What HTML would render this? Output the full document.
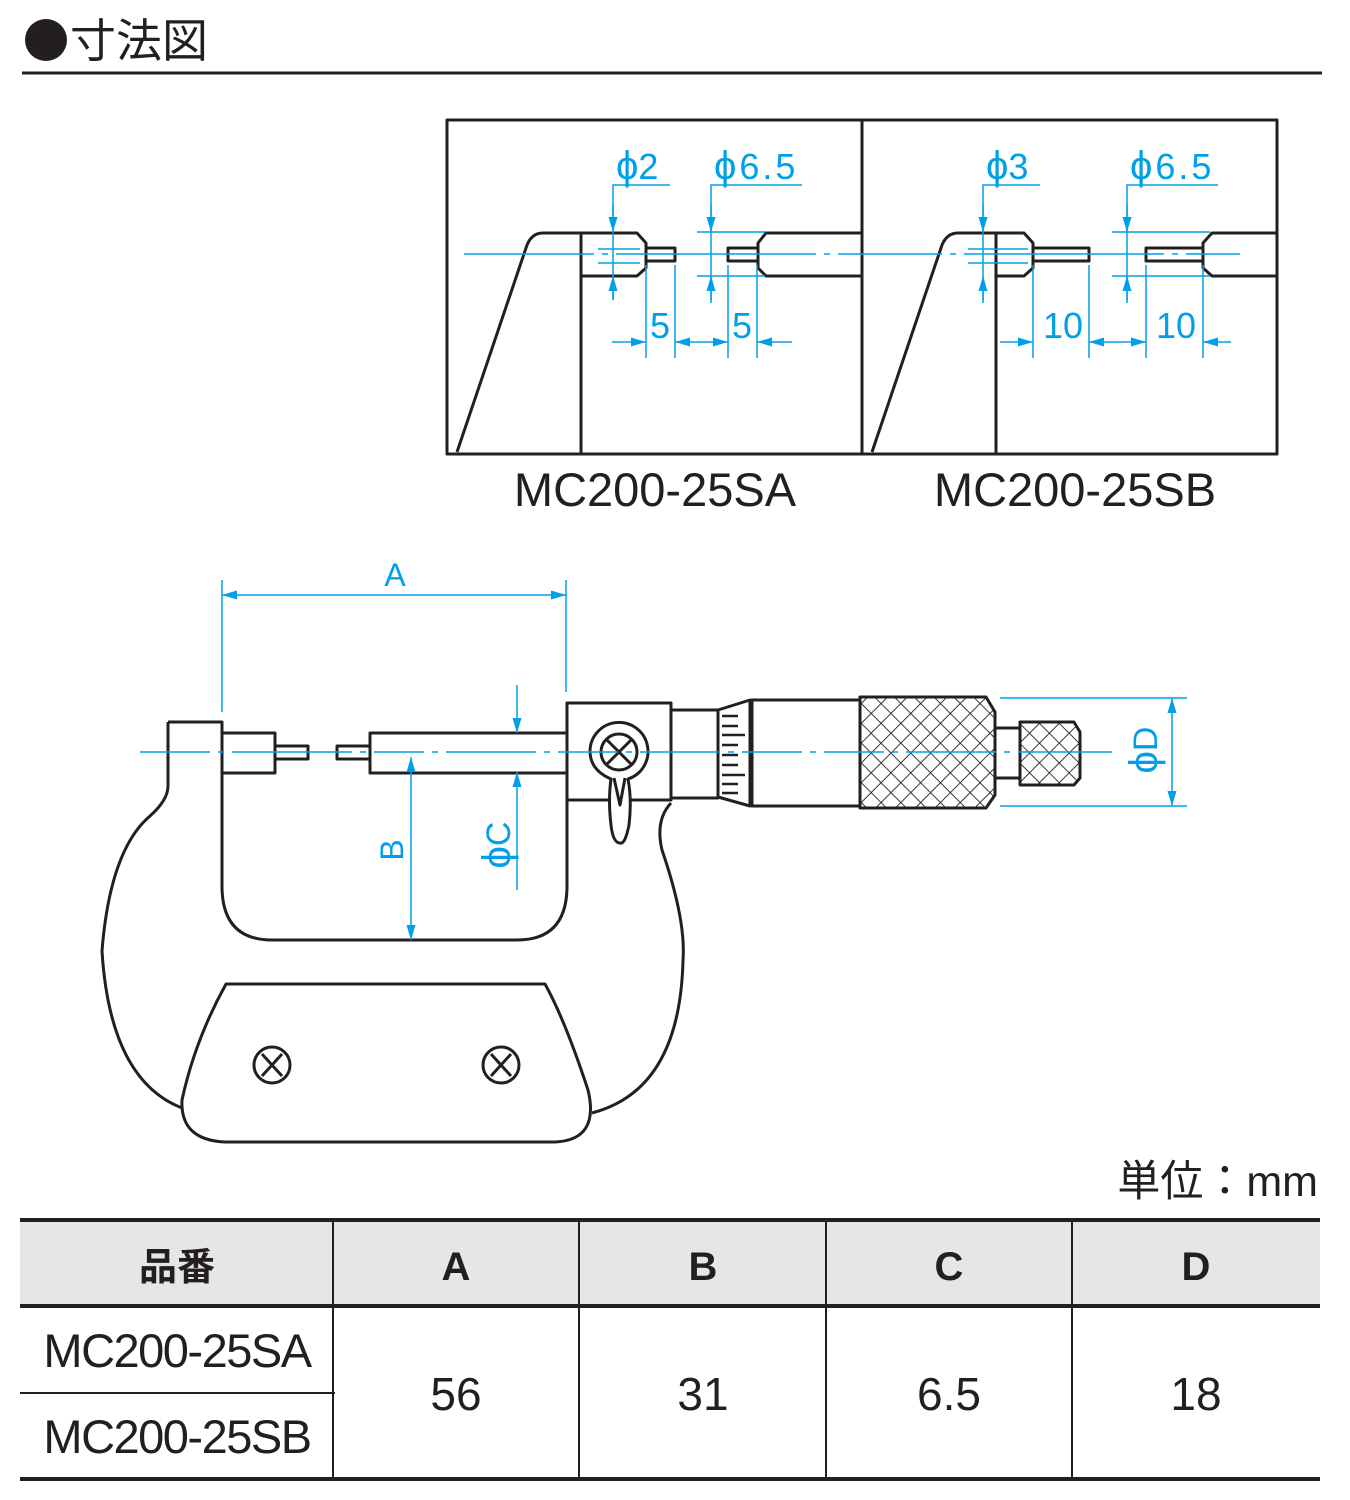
<!DOCTYPE html>
<html><head><meta charset="utf-8"><style>
html,body{margin:0;padding:0;background:#fff;}
svg{display:block;}
.k{fill:none;stroke:#231f20;stroke-width:3;stroke-linejoin:round;}
.b{fill:none;stroke:#00a0e9;stroke-width:1.5;}
.bt{fill:#00a0e9;font-family:"Liberation Sans",sans-serif;}
.t{font-family:"Liberation Sans","Noto Sans CJK JP",sans-serif;fill:#231f20;}
</style></head><body>
<svg width="1350" height="1500" viewBox="0 0 1350 1500" xmlns="http://www.w3.org/2000/svg">
<defs>
<marker id="ar" viewBox="0 0 10 6" refX="10" refY="3" markerWidth="16" markerHeight="9" markerUnits="userSpaceOnUse" orient="auto-start-reverse"><path d="M0,0L10,3L0,6Z" fill="#00a0e9"/></marker>
<pattern id="kn" width="14" height="14" patternUnits="userSpaceOnUse" patternTransform="rotate(45)"><rect width="14" height="14" fill="#fff"/><path d="M0,0H14M0,0V14" stroke="#231f20" stroke-width="1.8"/></pattern>
</defs>
<!-- title -->
<circle cx="46" cy="40" r="21" fill="#231f20"/>
<text x="70" y="57" class="t" font-size="46">寸法図</text>
<line x1="22" y1="73" x2="1322" y2="73" stroke="#231f20" stroke-width="3"/>

<!-- detail boxes -->
<rect x="447" y="120" width="830" height="334" class="k"/>
<line x1="862" y1="120" x2="862" y2="454" class="k"/>
<!-- Box A -->
<path class="k" d="M457,452 L527,245 Q532,233 543,233 L581,233 M581,233 V454"/>
<path class="k" d="M581,233 H637 L646,243 V268 L637,276 H581"/>
<rect x="646" y="248" width="29" height="13" class="k"/>
<rect x="728" y="248" width="30" height="13" class="k"/>
<path class="k" d="M862,233 H766 L758,243 V268 L766,276 H862"/>
<line x1="464" y1="254" x2="862" y2="254" class="b" stroke-dasharray="130,8,6,8,200,8,6,8,400"/>
<g class="b">
<path d="M613,300V185H670"/><line x1="613" y1="205" x2="613" y2="232" marker-end="url(#ar)"/><line x1="613" y1="300" x2="613" y2="276" marker-end="url(#ar)"/>
<path d="M598,249H640M598,263H640"/>
<path d="M711,303V185H802"/><line x1="711" y1="205" x2="711" y2="232" marker-end="url(#ar)"/><line x1="711" y1="300" x2="711" y2="276" marker-end="url(#ar)"/>
<path d="M697,232H765M697,276H765"/>
<path d="M646,265V358M675,265V358M728,265V358M757,265V358"/>
<line x1="612" y1="342" x2="646" y2="342" marker-end="url(#ar)"/>
<line x1="675" y1="342" x2="728" y2="342" marker-start="url(#ar)" marker-end="url(#ar)"/>
<line x1="792" y1="342" x2="757" y2="342" marker-end="url(#ar)"/>
</g>
<text x="616" y="179" class="bt" font-size="36"><tspan font-size="40">ϕ</tspan>2</text>
<text x="714" y="179" class="bt" font-size="36" letter-spacing="3"><tspan font-size="40">ϕ</tspan>6.5</text>
<text x="650" y="338" class="bt" font-size="36">5</text>
<text x="732" y="338" class="bt" font-size="36">5</text>
<!-- Box B -->
<path class="k" d="M872,452 L942,245 Q947,233 958,233 L996,233 M996,233 V454"/>
<path class="k" d="M996,233 H1024 L1033,243 V268 L1024,276 H996"/>
<rect x="1033" y="248" width="56" height="13" class="k"/>
<rect x="1146" y="248" width="57" height="13" class="k"/>
<path class="k" d="M1277,233 H1212 L1203,243 V268 L1212,276 H1277"/>
<line x1="862" y1="254" x2="1240" y2="254" class="b" stroke-dasharray="80,8,6,8,200,8,6,8,400"/>
<g class="b">
<path d="M983,303V185H1040"/><line x1="983" y1="205" x2="983" y2="232" marker-end="url(#ar)"/><line x1="983" y1="300" x2="983" y2="276" marker-end="url(#ar)"/>
<path d="M968,249H1028M968,263H1028"/>
<path d="M1127,303V185H1218"/><line x1="1127" y1="205" x2="1127" y2="232" marker-end="url(#ar)"/><line x1="1127" y1="300" x2="1127" y2="276" marker-end="url(#ar)"/>
<path d="M1112,232H1210M1112,276H1210"/>
<path d="M1033,265V358M1089,265V358M1146,265V358M1203,265V358"/>
<line x1="1000" y1="342" x2="1033" y2="342" marker-end="url(#ar)"/>
<line x1="1089" y1="342" x2="1146" y2="342" marker-start="url(#ar)" marker-end="url(#ar)"/>
<line x1="1231" y1="342" x2="1203" y2="342" marker-end="url(#ar)"/>
</g>
<text x="986" y="179" class="bt" font-size="36"><tspan font-size="40">ϕ</tspan>3</text>
<text x="1130" y="179" class="bt" font-size="36" letter-spacing="3"><tspan font-size="40">ϕ</tspan>6.5</text>
<text x="1043" y="338" class="bt" font-size="36">10</text>
<text x="1156" y="338" class="bt" font-size="36">10</text>
<text x="655" y="506" class="t" font-size="47" text-anchor="middle">MC200-25SA</text>
<text x="1075" y="506" class="t" font-size="47" text-anchor="middle">MC200-25SB</text>

<!-- micrometer frame -->
<path class="k" d="M168,722 H222 V886 Q222,940 272,940 H517 Q567,940 567,886 V800"/>
<path class="k" d="M168,722 V786 Q168,800 150,816 Q110,850 102,951 Q110,1080 182,1108"/>
<path class="k" d="M671,803 Q655,820 662,850 Q686,920 683,960 Q680,1090 592,1113"/>
<path class="k" d="M226,984 H545 Q565,1020 588,1090 Q600,1140 555,1142 H225 Q180,1140 182,1100 Q195,1040 226,984Z"/>
<g class="k" stroke-width="2.5"><ellipse cx="272" cy="1065" rx="18" ry="18"/><path d="M262,1054L282,1076M282,1054L262,1076"/>
<ellipse cx="501" cy="1065" rx="18" ry="18"/><path d="M491,1054L511,1076M511,1054L491,1076"/></g>
<!-- anvil & spindle -->
<rect x="222" y="733" width="53" height="40" class="k"/>
<rect x="275" y="746" width="33" height="13" class="k"/>
<rect x="337" y="746" width="33" height="13" class="k"/>
<rect x="370" y="733" width="197" height="40" class="k"/>
<!-- sleeve block -->
<rect x="567" y="703" width="104" height="97" class="k"/>
<path class="k" style="fill:#fff" d="M611,779 Q590,770 590,751 A29,29 0 1 1 628,779 Q632,800 629,825 Q625,845 620,843 Q613,843 611,825 Q608,800 611,779Z"/>
<circle cx="619" cy="752" r="18" class="k" stroke-width="2.5"/>
<path class="k" stroke-width="2.5" d="M607,740L631,764M631,740L607,764M614,778L620,805L625,778"/>
<!-- sleeve -->
<rect x="671" y="710" width="47" height="88" class="k"/>
<path class="k" d="M718,710 L750,700 V806 L718,797Z"/>
<g stroke="#231f20" stroke-width="2.5"><path d="M722,716H738M722,726H738M722,735H745M722,745H738M722,755H738M722,765H738M722,775H745M722,784H738M722,793H738"/></g>
<rect x="752" y="700" width="108" height="106" class="k"/>
<path class="k" style="fill:url(#kn)" d="M860,697 H986 L995,712 V795 L986,808 H860Z"/>
<rect x="995" y="728" width="25" height="50" class="k"/>
<path class="k" style="fill:url(#kn)" d="M1020,722 H1074 L1080,732 V778 L1074,785 H1020Z"/>
<!-- centerline -->
<line x1="140" y1="752" x2="1112" y2="752" class="b" stroke-dasharray="70,8,6,8,120,8,6,8,50,8,6,8,90,8,6,8,60,8,6,8,80,8,6,8,60,8,6,8,60,8,6,8,90,8,6,8,400"/>
<!-- dims -->
<g class="b">
<path d="M222,580V712M566,580V692"/>
<line x1="222" y1="595" x2="566" y2="595" marker-start="url(#ar)" marker-end="url(#ar)"/>
<line x1="411" y1="757" x2="411" y2="940" marker-start="url(#ar)" marker-end="url(#ar)"/>
<line x1="517" y1="685" x2="517" y2="733" marker-end="url(#ar)"/>
<line x1="517" y1="890" x2="517" y2="772" marker-end="url(#ar)"/>
<path d="M1000,698H1187M1000,806H1187"/>
<line x1="1172" y1="698" x2="1172" y2="806" marker-start="url(#ar)" marker-end="url(#ar)"/>
</g>
<text x="395" y="586" class="bt" font-size="32" text-anchor="middle">A</text>
<text transform="translate(403,850) rotate(-90)" class="bt" font-size="32" text-anchor="middle">B</text>
<text transform="translate(510,845) rotate(-90)" class="bt" font-size="34" text-anchor="middle"><tspan font-size="40">ϕ</tspan>C</text>
<text transform="translate(1157,750) rotate(-90)" class="bt" font-size="34" text-anchor="middle"><tspan font-size="40">ϕ</tspan>D</text>

<!-- table -->
<text x="1318" y="1196" class="t" font-size="43" text-anchor="end">単位：mm</text>
<rect x="20" y="1221" width="1300" height="85" fill="#e6e6e8"/>
<g stroke="#231f20">
<line x1="20" y1="1220" x2="1320" y2="1220" stroke-width="4"/>
<line x1="20" y1="1306" x2="1320" y2="1306" stroke-width="4"/>
<line x1="20" y1="1479" x2="1320" y2="1479" stroke-width="4"/>
<line x1="20" y1="1393" x2="335" y2="1393" stroke-width="2"/>
<path d="M333,1220V1479M579,1220V1479M826,1220V1479M1072,1220V1479" stroke-width="2"/>
</g>
<g class="t" text-anchor="middle">
<text x="177" y="1280" font-size="38" font-weight="bold">品番</text>
<text x="456" y="1280" font-size="40" font-weight="bold">A</text>
<text x="703" y="1280" font-size="40" font-weight="bold">B</text>
<text x="949" y="1280" font-size="40" font-weight="bold">C</text>
<text x="1196" y="1280" font-size="40" font-weight="bold">D</text>
<text x="177" y="1367" font-size="47" letter-spacing="-1.5">MC200-25SA</text>
<text x="177" y="1453" font-size="47" letter-spacing="-1.5">MC200-25SB</text>
<text x="456" y="1410" font-size="46">56</text>
<text x="703" y="1410" font-size="46">31</text>
<text x="949" y="1410" font-size="46">6.5</text>
<text x="1196" y="1410" font-size="46">18</text>
</g>
</svg>
</body></html>
